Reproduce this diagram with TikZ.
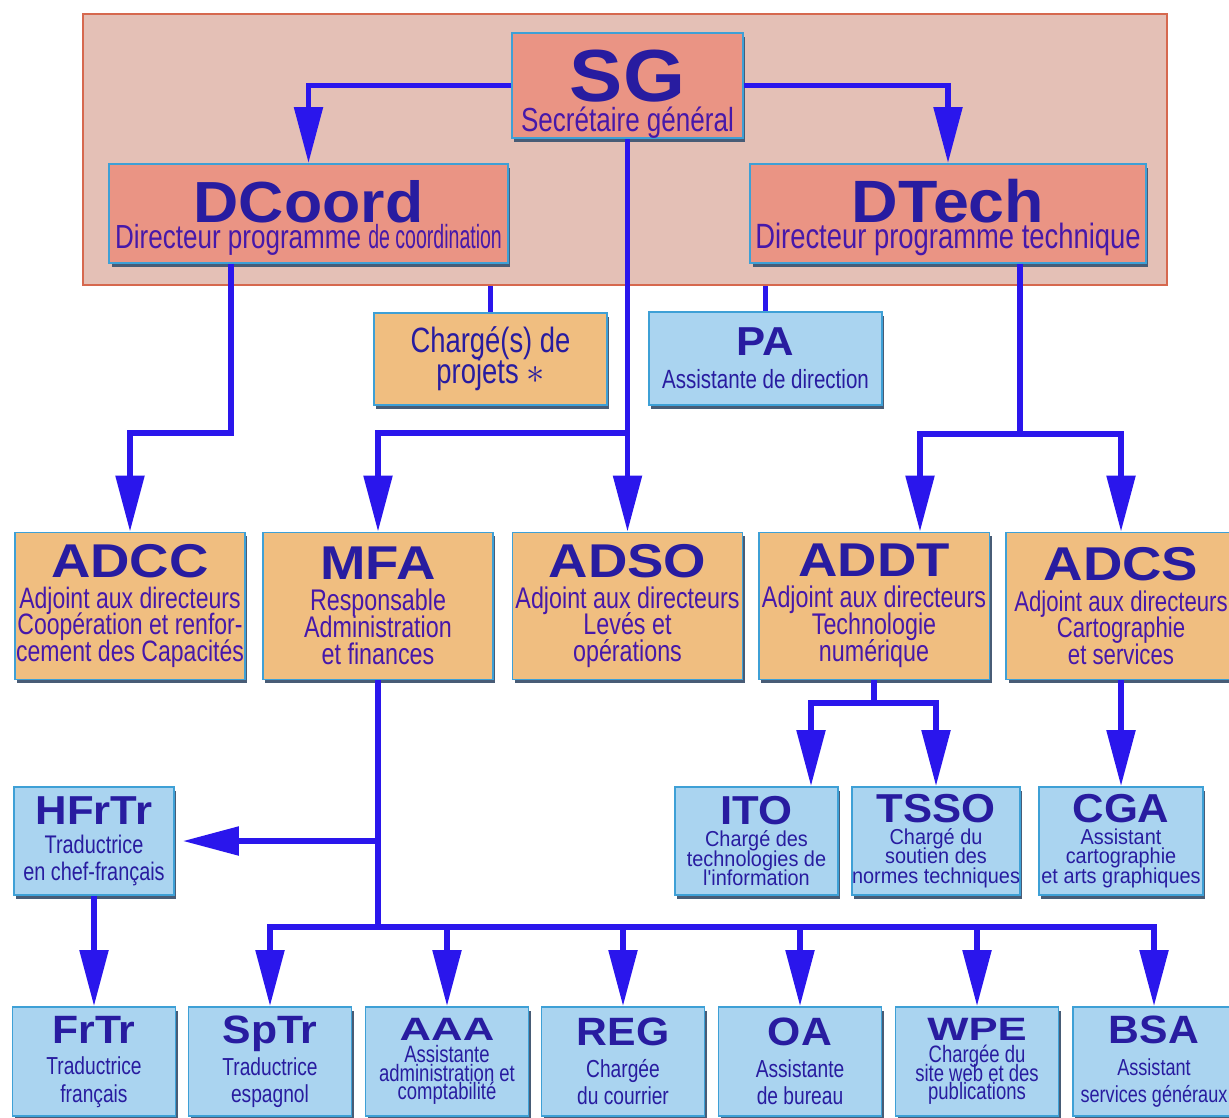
\documentclass[tikz,border=0pt]{standalone}
\usepackage{fontspec}
\setmainfont{Liberation Sans}
\newfontfamily\narrowfont{Liberation Sans}[FakeStretch=0.78]
\newfontfamily\midfont{Liberation Sans}[FakeStretch=0.92]
\newfontfamily\headfont{Liberation Sans}[FakeStretch=1.08]
\newfontfamily\widefont{Liberation Sans}[FakeStretch=1.15]
\usetikzlibrary{arrows.meta,shadows}
\lineskiplimit=-30pt

\definecolor{bgpink}{RGB}{228,192,182}
\definecolor{bgline}{RGB}{214,104,78}
\definecolor{salmon}{RGB}{234,148,132}
\definecolor{tan}{RGB}{240,190,128}
\definecolor{skyblue}{RGB}{170,212,240}
\definecolor{boxline}{RGB}{62,160,214}
\definecolor{shadowcol}{RGB}{72,92,118}
\definecolor{arrowblue}{RGB}{42,22,236}
\definecolor{titlecol}{RGB}{40,28,160}
\definecolor{subcol}{RGB}{70,24,170}

\newcommand{\hd}[2]{{\headfont\fontsize{#1}{#1}\selectfont\bfseries #2}}
\newcommand{\hdw}[1]{{\widefont\fontsize{27}{27}\selectfont\bfseries #1}}
\newcommand{\hdflat}[2]{\scalebox{1}[0.8]{\hd{#1}{#2}}}

\tikzset{
  box/.style={draw=boxline, line width=1.1pt, inner sep=0pt, align=center,
    text=subcol, drop shadow={shadow xshift=1.4pt, shadow yshift=-2.2pt, fill=shadowcol, opacity=1}},
  topbox/.style={box, fill=salmon},
  tanbox/.style={box, fill=tan, minimum width=4.6cm, minimum height=2.94cm,
    font=\narrowfont\fontsize{17}{15.3}\selectfont},
  bluebox/.style={box, fill=skyblue, text=titlecol},
  lowbox/.style={bluebox, minimum width=3.26cm, minimum height=2.18cm,
    font=\narrowfont\fontsize{14}{15.4}\selectfont},
  midbox/.style={bluebox, minimum width=3.26cm, minimum height=2.16cm,
    font=\midfont\fontsize{12.3}{11.1}\selectfont},
  link/.style={draw=arrowblue, line width=3.1pt},
  arr/.style={link, -{Triangle[length=1.12cm, width=0.56cm]}}
}

\begin{document}
\begin{tikzpicture}[x=0.02cm, y=-0.02cm]
        \useasboundingbox[fill=white] (0,0) rectangle (1229,1117);
        % direction frame
        \node[draw=bgline, line width=1.2pt, fill=bgpink, minimum width=21.68cm, minimum height=5.42cm] (dir) at (625,149.5) {};

        % top level
        \node[topbox, minimum width=4.62cm, minimum height=2.1cm, font=\narrowfont\fontsize{19}{17}\selectfont] (SG) at (627.5,85.5)
            {\rule{0pt}{39pt}\textcolor{titlecol}{\hd{42}{SG}}\\Secrétaire général};
        \node[topbox, minimum width=7.98cm, minimum height=1.98cm, font=\narrowfont\fontsize{19}{14.8}\selectfont] (DCoord) at (308.5,213.5)
            {\rule{0pt}{29pt}\textcolor{titlecol}{\hd{33}{DCoord}}\\Directeur programme \scalebox{0.75}[1]{de coordination}};
        \node[topbox, minimum width=7.92cm, minimum height=1.98cm, font=\narrowfont\fontsize{20}{14.8}\selectfont] (DTech) at (948,213.5)
            {\rule{0pt}{29pt}\textcolor{titlecol}{\hd{34}{DTech}}\\Directeur programme technique};

        \node[box, fill=tan, minimum width=4.66cm, minimum height=1.84cm, text=titlecol, font=\narrowfont\fontsize{20}{17.8}\selectfont] (Charge) at (490.5,359)
            {Chargé(s) de\\projets $\ast$};
        \node[bluebox, minimum width=4.66cm, minimum height=1.86cm, font=\narrowfont\fontsize{15}{15}\selectfont] (PA) at (765.5,358.5)
            {\hd{23}{PA}\\[3.8pt]Assistante de direction};

        % deputies
        \node[tanbox, font=\narrowfont\fontsize{16.8}{15.3}\selectfont] (ADCC) at (130,606)
            {\textcolor{titlecol}{\hdw{ADCC}}\\[2.3pt]Adjoint aux directeurs\\Coopération et renfor-\\cement des Capacités};
        \node[tanbox] (MFA) at (378,606)
            {\textcolor{titlecol}{\hdw{MFA}}\\[2.3pt]Responsable\\Administration\\et finances};
        \node[tanbox] (ADSO) at (627.5,606)
            {\textcolor{titlecol}{\hdw{ADSO}}\\[2.3pt]Adjoint aux directeurs\\Levés et\\opérations};
        \node[tanbox, minimum width=4.62cm] (ADDT) at (874,606)
            {\textcolor{titlecol}{\hdw{ADDT}}\\[2.3pt]Adjoint aux directeurs\\Technologie\\numérique};
        \node[tanbox, font=\narrowfont\fontsize{16.2}{15.3}\selectfont] (ADCS) at (1121,606)
            {\textcolor{titlecol}{\hdw{ADCS}}\\[2.3pt]Adjoint aux directeurs\\Cartographie\\et services};

        % third row
        \node[midbox, minimum width=3.2cm, font=\narrowfont\fontsize{14.5}{15.4}\selectfont] (HFrTr) at (94,841)
            {\hd{23}{HFrTr}\\[1.1pt]Traductrice\\en chef-français};
        \node[midbox] (ITO) at (756.5,841)
            {\hd{23}{ITO}\\[1.5pt]Chargé des\\technologies de\\l'information};
        \node[midbox, minimum width=3.24cm] (TSSO) at (936,841)
            {\hd{23}{TSSO}\\[1.5pt]Chargé du\\soutien des\\normes techniques};
        \node[midbox, minimum width=3.28cm] (CGA) at (1121,841)
            {\hd{23}{CGA}\\[1.5pt]Assistant\\cartographie\\et arts graphiques};

        % bottom row
        \node[lowbox] (FrTr) at (94,1061.5)
            {\hd{22.5}{FrTr}\\[2.8pt]Traductrice\\français};
        \node[lowbox] (SpTr) at (270,1061.5)
            {\hd{22.5}{SpTr}\\[2.8pt]Traductrice\\espagnol};
        \node[lowbox, font=\narrowfont\fontsize{13.5}{10.6}\selectfont] (AAA) at (447,1061.5)
            {\hdflat{23}{AAA}\\[2pt]Assistante\\administration et\\comptabilité};
        \node[lowbox] (REG) at (623,1061.5)
            {\hd{22.5}{REG}\\[2.8pt]Chargée\\du courrier};
        \node[lowbox] (OA) at (800,1061.5)
            {\hd{22.5}{OA}\\[2.8pt]Assistante\\de bureau};
        \node[lowbox, font=\narrowfont\fontsize{13.5}{10.6}\selectfont] (WPE) at (977,1061.5)
            {\hdflat{23}{WPE}\\[2pt]Chargée du\\site web et des\\publications};
        \node[lowbox, font=\narrowfont\fontsize{13.2}{15.4}\selectfont] (BSA) at (1154,1061.5)
            {\hd{22.5}{BSA}\\[2.8pt]Assistant\\services généraux};

        % connectors
        \coordinate (sgj) at (627.5,433);
        \coordinate (dcj) at (231,433);
        \coordinate (dtj) at (1020,434);
        \coordinate (adj) at (874,703);
        \coordinate (mfj) at (378,927);
        \draw[arr] (SG.west) -| (DCoord.north);
        \draw[arr] (SG.east) -| (DTech.north);
        \draw[arr] (SG.south) -- (ADSO.north);
        \draw[arr] (sgj) -| (MFA.north);
        \draw[arr] (DCoord.south -| dcj) -- (dcj) -| (ADCC.north);
        \draw[link] (dir.south -| Charge.north) -- (Charge.north);
        \draw[link] (dir.south -| PA.north) -- (PA.north);
        \draw[link] (DTech.south -| dtj) -- (dtj);
        \draw[arr] (dtj) -| ([xshift=0.92cm]ADDT.north);
        \draw[arr] (dtj) -| (ADCS.north);
        \draw[link] (ADDT.south) -- (adj);
        \draw[arr] (adj) -| ([xshift=1.09cm]ITO.north);
        \draw[arr] (adj) -| (TSSO.north);
        \draw[arr] (ADCS.south) -- (CGA.north);
        \draw[link] (MFA.south) -- (mfj);
        \draw[arr, shorten >=0.16cm] (MFA.south |- HFrTr.east) -- (HFrTr.east);
        \draw[arr] (HFrTr.south) -- (FrTr.north);
        \draw[arr] (mfj) -| (SpTr.north);
        \draw[arr] (mfj) -| (BSA.north);
        \draw[arr] (AAA.north |- mfj) -- (AAA.north);
        \draw[arr] (REG.north |- mfj) -- (REG.north);
        \draw[arr] (OA.north |- mfj) -- (OA.north);
        \draw[arr] (WPE.north |- mfj) -- (WPE.north);
    \end{tikzpicture}
\end{document}
